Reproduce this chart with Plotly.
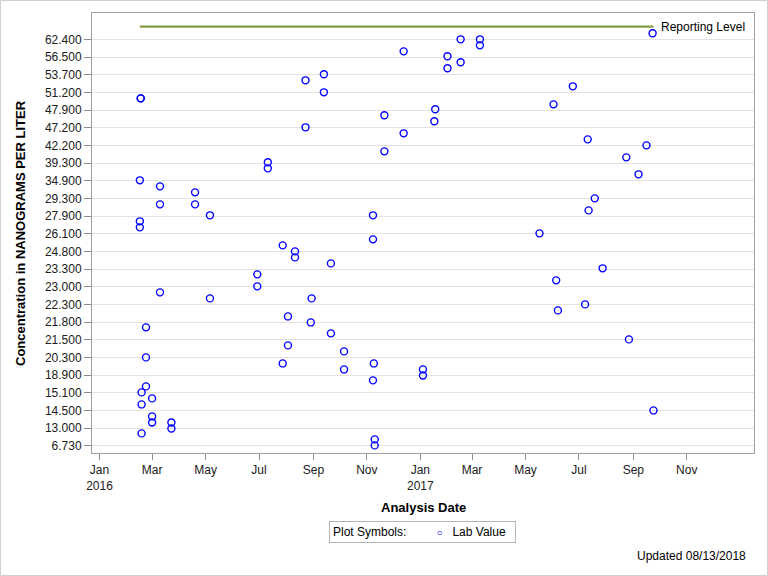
import plotly.graph_objects as go

# ---- data ----
y_tick_labels = ["6.730", "13.000", "14.500", "15.100", "18.900", "20.300", "21.500",
                 "21.800", "22.300", "23.000", "23.300", "24.800", "26.100", "27.900",
                 "29.300", "34.900", "39.300", "42.200", "47.200", "47.900", "51.200",
                 "53.700", "56.500", "62.400"]
y_tick_pos = list(range(len(y_tick_labels)))

sample_dates = [
    "2016-02-17", "2016-02-17", "2016-02-16", "2016-03-10", "2016-04-19", "2016-03-10",
    "2016-04-19", "2016-05-06", "2016-02-16", "2016-02-16", "2016-03-10", "2016-05-06",
    "2016-06-29", "2016-06-29", "2016-02-23", "2016-02-23", "2016-02-23", "2016-02-18",
    "2016-03-01", "2016-02-18", "2016-03-01", "2016-03-01", "2016-03-23", "2016-03-23",
    "2016-02-18", "2017-02-16", "2017-03-10", "2017-03-10", "2016-12-13", "2017-02-01",
    "2017-02-16", "2017-02-01", "2016-08-23", "2016-09-13", "2016-09-13", "2017-01-18",
    "2016-11-21", "2017-01-17", "2016-08-23", "2016-12-13", "2016-11-21", "2016-07-11",
    "2016-07-11", "2016-11-08", "2016-11-08", "2016-07-28", "2016-08-11", "2016-08-11",
    "2016-09-21", "2016-08-30", "2016-08-03", "2016-08-29", "2016-09-21", "2016-08-03",
    "2016-10-06", "2016-07-28", "2016-11-09", "2016-10-06", "2017-01-04", "2017-01-04",
    "2016-11-08", "2016-11-10", "2016-11-10", "2017-09-23", "2017-06-24", "2017-06-02",
    "2017-07-11", "2017-09-16", "2017-08-24", "2017-09-07", "2017-07-19", "2017-07-12",
    "2017-05-17", "2017-07-28", "2017-06-05", "2017-07-08", "2017-06-07", "2017-08-27",
    "2017-09-24",
]
# values expressed on the chart's (rank-style) concentration scale
lab_values = [
    19.66, 19.66, 15.02, 14.68, 14.34, 13.66,
    13.66, 13.04, 12.70, 12.36, 8.68, 8.34,
    9.70, 9.02, 6.70, 5.00, 3.36, 3.02,
    2.68, 2.34, 1.66, 1.32, 1.32, 0.98,
    0.70, 23.00, 23.00, 22.66, 22.32, 22.04,
    21.70, 21.36, 20.68, 21.02, 20.00, 19.04,
    18.70, 18.36, 18.02, 17.68, 16.66, 16.04,
    15.70, 13.04, 11.68, 11.34, 11.00, 10.66,
    10.32, 8.34, 7.32, 6.98, 6.36, 5.68,
    5.34, 4.66, 4.66, 4.32, 4.32, 3.98,
    3.70, 0.36, 0.02, 23.34, 20.34, 19.32,
    17.34, 17.00, 16.32, 15.36, 14.00, 13.32,
    12.02, 10.04, 9.36, 8.00, 7.66, 6.02,
    2.00,
]
reporting_level = 23.72

x_tick_vals = ["2016-01-01", "2016-03-01", "2016-05-01", "2016-07-01", "2016-09-01",
               "2016-11-01", "2017-01-01", "2017-03-01", "2017-05-01", "2017-07-01",
               "2017-09-01", "2017-11-01"]
x_tick_text = ["Jan<br>2016", "Mar", "May", "Jul", "Sep", "Nov",
               "Jan<br>2017", "Mar", "May", "Jul", "Sep", "Nov"]

FONT = "Liberation Sans, Arial, sans-serif"
W, H = 768, 576
L, R, T, B = 92, 14, 13, 123
pw, ph = W - L - R, H - T - B

fig = go.Figure()

first_date, last_date = min(sample_dates), max(sample_dates)
fig.add_trace(go.Scatter(
    x=[first_date, last_date], y=[reporting_level, reporting_level],
    mode="lines", line=dict(color="#829E45", width=2.2),
    showlegend=False, hoverinfo="skip", name="Reporting Level"))

fig.add_trace(go.Scatter(
    x=sample_dates, y=lab_values, mode="markers", name="Lab Value",
    showlegend=False,
    marker=dict(symbol="circle-open", size=7, color="#0000FF",
                line=dict(width=1.4, color="#0000FF"))))

fig.add_annotation(x=last_date, y=reporting_level, text="Reporting Level",
                   xanchor="left", yanchor="middle", xshift=6, showarrow=False,
                   font=dict(family=FONT, size=12, color="#000000"))

fig.update_xaxes(
    type="date", range=["2015-12-23 10:00", "2018-01-16 17:00"],
    tickvals=x_tick_vals, ticktext=x_tick_text, ticks="outside", ticklen=6,
    tickcolor="#8c8c8c", showgrid=False, showline=True, linecolor="#a0a0a0",
    mirror=True, zeroline=False, tickfont=dict(family=FONT, size=12, color="#202020"))
fig.update_yaxes(
    range=[-0.41, 24.49], tickvals=y_tick_pos, ticktext=y_tick_labels,
    ticks="outside", ticklen=7, tickcolor="#8c8c8c", showgrid=True,
    gridcolor="#e2e2e2", gridwidth=1, showline=True, linecolor="#a0a0a0",
    mirror=True, zeroline=False, tickfont=dict(family=FONT, size=12, color="#202020"))

# axis titles
fig.add_annotation(xref="paper", yref="paper", x=(20 - L) / pw, y=0.5,
                   text="<b>Concentration in NANOGRAMS PER LITER</b>", textangle=-90,
                   showarrow=False, xanchor="center", yanchor="middle",
                   font=dict(family=FONT, size=13, color="#000000"))
fig.add_annotation(xref="paper", yref="paper", x=0.5, y=-(507 - (T + ph)) / ph,
                   text="<b>Analysis Date</b>", showarrow=False,
                   xanchor="center", yanchor="middle",
                   font=dict(family=FONT, size=13, color="#000000"))
fig.add_annotation(xref="paper", yref="paper", x=(748 - L) / pw, y=-(556 - (T + ph)) / ph,
                   text="Updated 08/13/2018", showarrow=False,
                   xanchor="right", yanchor="middle",
                   font=dict(family=FONT, size=12, color="#000000"))

# legend box
fig.add_annotation(xref="paper", yref="paper", x=(422.5 - L) / pw, y=-(531.5 - (T + ph)) / ph,
                   text=("Plot Symbols:&nbsp;&nbsp;&nbsp;&nbsp;&nbsp;&nbsp;&nbsp;&nbsp;&nbsp;"
                         "<span style='color:#0000FF;font-size:10px'>○</span>"
                         "&nbsp;&nbsp;&nbsp;Lab Value&nbsp;&nbsp;"),
                   showarrow=False, xanchor="center", yanchor="middle",
                   bordercolor="#b4b4b4", borderwidth=1, borderpad=3, bgcolor="white",
                   font=dict(family=FONT, size=12, color="#000000"))

# outer frame of the image
fig.add_shape(type="rect", xref="paper", yref="paper", layer="above",
              x0=(-L + 0.5) / pw, x1=1 + (R - 0.5) / pw,
              y0=-(B - 0.5) / ph, y1=1 + (T - 0.5) / ph,
              line=dict(color="#d0d0d0", width=1))

fig.update_layout(
    width=W, height=H, margin=dict(l=L, r=R, t=T, b=B, autoexpand=False),
    paper_bgcolor="white", plot_bgcolor="white",
    font=dict(family=FONT, size=12, color="#000000"),
    showlegend=False,
)

fig.write_html("out.html", config={"displayModeBar": False},
               post_script="document.body.style.margin='0';")
